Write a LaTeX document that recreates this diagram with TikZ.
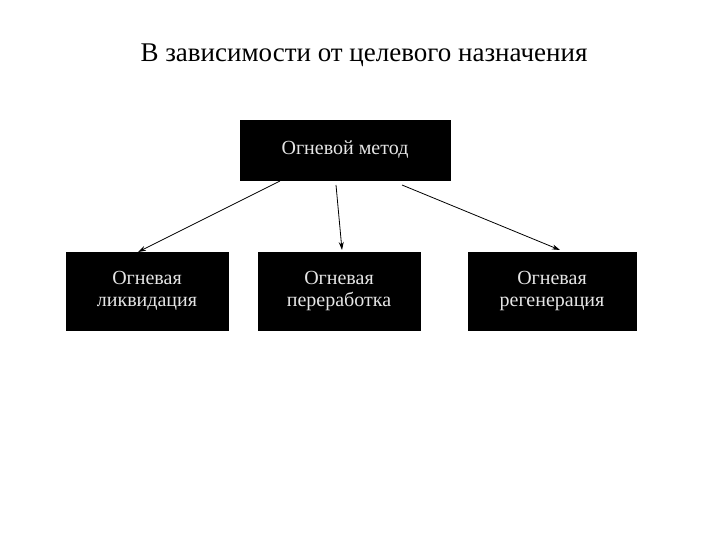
\documentclass[tikz,border=0pt]{standalone}
\usepackage{fontspec}
\setmainfont{Liberation Serif}
\usetikzlibrary{arrows.meta}
\begin{document}
\begin{tikzpicture}[x=1pt,y=-1pt,
  blk/.style={fill=black,draw=black,text=white!80!gray,align=center,font=\fontsize{20}{22}\selectfont,inner sep=0pt},
  arr/.style={-{Stealth[length=8pt,width=5pt]},line width=0.8pt}]
\useasboundingbox (0,0) rectangle (720,540);
\node[font=\fontsize{27}{30}\selectfont] (title) at (364,55) {В зависимости от целевого назначения};
\node[blk,minimum width=210pt,minimum height=60pt] (top) at (345,150) {Огневой метод};
\node[blk,minimum width=162pt,minimum height=78pt] (l) at (147,291) {Огневая\\ликвидация};
\node[blk,minimum width=162pt,minimum height=78pt] (m) at (339,291) {Огневая\\переработка};
\node[blk,minimum width=168pt,minimum height=78pt] (r) at (552,291) {Огневая\\регенерация};
\coordinate (a1) at (280,181); \coordinate (a2) at (336,185); \coordinate (a3) at (402,185);
\coordinate (b1) at (138,252); \coordinate (b2) at (342,250); \coordinate (b3) at (560,250);
\draw[arr] (a1) -- (b1);
\draw[arr] (a2) -- (b2);
\draw[arr] (a3) -- (b3);
\end{tikzpicture}
\end{document}
